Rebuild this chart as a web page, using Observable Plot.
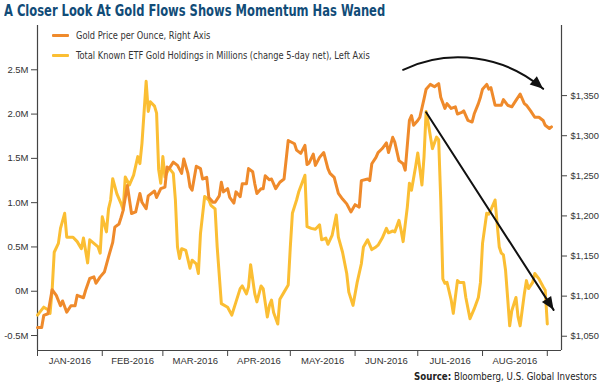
<!DOCTYPE html>
<html>
<head>
<meta charset="utf-8">
<script src="https://cdn.jsdelivr.net/npm/d3@7"></script>
<script src="https://cdn.jsdelivr.net/npm/@observablehq/plot@0.6"></script>
<style>
  html, body { margin: 0; padding: 0; background: #fff; }
  body { width: 600px; height: 385px; position: relative; overflow: hidden;
         font-family: "DejaVu Sans Condensed", "Liberation Sans", sans-serif; }
  #title { position: absolute; left: 4px; top: 1px; font-weight: bold; font-size: 16px; color: #114c78; white-space: nowrap;
           transform: scaleX(0.8); transform-origin: 0 0; }
  #chart { position: absolute; left: 0; top: 20px; }
  #legend { position: absolute; left: 52px; top: 26px; font-size: 10px; color: #333; }
  #legend .row { height: 19.5px; display: flex; align-items: center; white-space: nowrap; }
  #legend .sw { display: inline-block; width: 17px; height: 3px; margin-right: 7px; border-radius: 1px; }
  #legend .txt { display: inline-block; transform: scaleX(0.92); transform-origin: 0 50%; }
  #source { position: absolute; right: 3px; top: 370px; font-size: 11px; color: #222; white-space: nowrap;
            transform: scaleX(0.875); transform-origin: 100% 0; }
</style>
</head>
<body>
<div id="title">A Closer Look At Gold Flows Shows Momentum Has Waned</div>
<div id="chart"></div>
<div id="legend"></div>
<div id="source"><b>Source:</b> Bloomberg, U.S. Global Investors</div>
<script>
// ---- Data ----
const goldDates = ["01-01","01-03","01-04","01-06","01-08","01-10","01-12","01-13","01-15","01-17","01-19","01-20","01-23","01-24","01-26","01-28","01-29","01-31",
"02-02","02-04","02-06","02-07","02-09","02-10","02-11","02-13","02-15","02-17","02-19","02-20","02-22","02-23","02-26","02-27","02-29",
"03-02","03-03","03-04","03-06","03-08","03-10","03-11","03-13","03-14","03-15","03-17","03-19","03-20","03-22","03-23","03-25","03-26","03-28","03-29","03-30",
"04-01","04-02","04-04","04-05","04-07","04-08","04-10","04-11","04-13","04-14","04-15","04-17","04-18","04-19","04-21","04-22","04-24","04-26","04-28","04-30",
"05-03","05-04","05-06","05-08","05-09","05-10","05-12","05-13","05-15","05-17","05-19","05-20","05-22","05-24","05-26","05-28","05-30",
"06-01","06-03","06-04","06-07","06-08","06-09","06-11","06-12","06-14","06-16","06-17","06-19","06-20","06-22","06-24","06-25","06-27","06-28","06-29",
"07-01","07-02","07-04","07-05","07-07","07-09","07-11","07-12","07-14","07-15","07-17","07-19","07-20","07-22","07-23","07-25","07-27","07-28","07-30","07-31",
"08-01","08-03","08-04","08-05","08-07","08-08","08-10","08-11","08-13","08-15","08-17","08-19","08-21","08-22","08-24","08-26","08-28","08-30","08-31",
"09-02","09-03"];
const goldPrices = [1061,1061,1076,1078,1108,1101,1088,1094,1080,1088,1088,1101,1098,1107,1122,1124,1116,1124,
1130,1149,1167,1186,1190,1198,1207,1238,1203,1205,1228,1217,1209,1225,1231,1223,1234,
1236,1261,1259,1267,1263,1253,1271,1253,1236,1232,1262,1259,1246,1248,1223,1217,1217,1225,1242,1230,
1234,1223,1216,1230,1224,1240,1240,1259,1255,1240,1228,1234,1234,1250,1245,1246,1234,1242,1246,1294,
1290,1282,1278,1288,1264,1266,1277,1263,1273,1279,1259,1253,1248,1228,1221,1215,1205,
1214,1211,1244,1246,1244,1265,1273,1279,1284,1291,1279,1298,1292,1269,1265,1257,1319,1325,1313,
1319,1323,1346,1358,1364,1361,1365,1348,1334,1340,1334,1336,1327,1329,1331,1319,1317,1327,1340,1348,
1358,1364,1358,1360,1338,1338,1338,1345,1338,1336,1344,1352,1340,1338,1331,1323,1323,1319,1313,
1309,1311];

const etfDates = ["01-01","01-04","01-06","01-07","01-08","01-09","01-11","01-12","01-14","01-15","01-18","01-20","01-22","01-23","01-25","01-26","01-28","01-30","01-31",
"02-01","02-03","02-04","02-05","02-06","02-08","02-10","02-11","02-12","02-14","02-16","02-18","02-19","02-20","02-22","02-23","02-24","02-26","02-27","02-28","02-29",
"03-01","03-02","03-04","03-06","03-07","03-08","03-09","03-10","03-12","03-14","03-15","03-17","03-18","03-19","03-21","03-23","03-24","03-26","03-27","03-29",
"04-01","04-03","04-05","04-07","04-08","04-10","04-11","04-12","04-14","04-15","04-17","04-18","04-20","04-21","04-22","04-23","04-25","04-26","04-28","04-30",
"05-01","05-02","05-04","05-05","05-08","05-09","05-11","05-13","05-15","05-16","05-18","05-19","05-21","05-23","05-24","05-26","05-28","05-29","05-31",
"06-02","06-04","06-05","06-07","06-09","06-11","06-12","06-14","06-16","06-17","06-19","06-20","06-22","06-23","06-24","06-26","06-27","06-28","06-30",
"07-01","07-03","07-04","07-05","07-06","07-08","07-10","07-11","07-12","07-13","07-14","07-15","07-17","07-18","07-20","07-21","07-23","07-24","07-26","07-28","07-30","07-31",
"08-01","08-03","08-04","08-05","08-07","08-08","08-09","08-10","08-11","08-12","08-13","08-14","08-15","08-17","08-18","08-19","08-21","08-22","08-23","08-25","08-26","08-28","08-30","08-31",
"09-01"];
const etfValues = [-0.27,-0.18,-0.21,-0.25,0.01,0.44,0.54,0.71,0.88,0.61,0.61,0.56,0.48,0.60,0.32,0.58,0.54,0.50,0.43,
0.84,0.67,0.93,1.03,1.27,1.10,0.99,0.92,1.29,1.20,1.31,1.52,1.44,1.67,2.37,2.03,2.14,2.09,2.01,1.37,1.22,
1.52,1.29,1.39,1.33,1.03,0.50,0.37,0.48,0.46,0.26,0.35,0.31,0.20,0.65,1.07,1.03,0.97,0.93,0.50,-0.14,
-0.18,-0.27,-0.12,0.03,0.06,-0.03,0.05,0.30,-0.03,-0.12,0.06,0.03,-0.29,-0.16,-0.10,-0.24,-0.37,-0.09,-0.01,0.07,
0.50,0.88,1.03,1.12,1.31,0.73,0.71,0.70,0.75,0.58,0.60,0.53,0.63,0.86,0.61,0.44,0.20,-0.01,-0.16,
0.10,0.31,0.50,0.58,0.47,0.50,0.52,0.60,0.71,0.66,0.68,0.67,0.80,0.69,0.56,0.95,1.22,1.14,1.41,
1.56,1.20,1.52,2.03,1.90,1.61,1.74,1.71,1.03,0.14,0.09,0.10,-0.10,-0.25,0.12,0.10,0.10,-0.07,-0.31,-0.20,-0.07,0.10,
0.54,0.88,0.87,0.92,1.03,0.76,0.50,0.43,0.41,0.24,-0.07,-0.39,-0.22,-0.07,-0.29,-0.39,-0.03,0.12,0.03,0.10,0.20,0.14,0.05,0.01,
-0.37];

const leftTicks = [-0.5, 0, 0.5, 1, 1.5, 2, 2.5];
const leftTickLabels = ["-0.5M", "0M", "0.5M", "1.0M", "1.5M", "2.0M", "2.5M"];
const rightTicks = [1050, 1100, 1150, 1200, 1250, 1300, 1350];
const rightTickLabels = ["$1,050", "$1,100", "$1,150", "$1,200", "$1,250", "$1,300", "$1,350"];
const monthStarts = ["2016-01-01","2016-02-01","2016-03-01","2016-04-01","2016-05-01","2016-06-01","2016-07-01","2016-08-01","2016-09-01"];
const monthLabels = ["JAN-2016","FEB-2016","MAR-2016","APR-2016","MAY-2016","JUN-2016","JUL-2016","AUG-2016"];

const seriesNames = ["Gold Price per Ounce, Right Axis", "Total Known ETF Gold Holdings in Millions (change 5-day net), Left Axis"];
const seriesColors = ["#ef8a2b", "#fbbe33"];

// annotation arrows (data space): straight arrow, then curved arrow
const straightArrow = [{from: "2016-07-05", fromVal: 2.02, to: "2016-09-04", toVal: -0.21}];
const curvedArrow = [{from: "2016-06-24", fromVal: 2.50, to: "2016-08-30", toVal: 2.285}];
const curvedBend = 33;

// ---- Build ----
const parse = d3.utcParse("%Y-%m-%d");
// gold price (right axis) expressed in left-axis units
const toLeft = p => (p - 1050) * 0.009055 - 0.5079;
const fromLeft = v => (v + 0.5079) / 0.009055 + 1050;

const gold = goldDates.map((d, i) => ({date: parse("2016-" + d), value: toLeft(goldPrices[i])}));
const etf = etfDates.map((d, i) => ({date: parse("2016-" + d), value: etfValues[i]}));
const starts = monthStarts.map(parse);
const mids = monthLabels.map((_, i) => new Date((+starts[i] + +starts[i + 1]) / 2));
const toArrow = a => ({x1: parse(a.from), y1: a.fromVal, x2: parse(a.to), y2: a.toVal});
const straight = straightArrow.map(toArrow);
const curved = curvedArrow.map(toArrow);

const xStart = starts[0];
const xEnd = new Date(Date.UTC(2016, 8, 7, 19));
const yMin = -0.669, yMax = 3.0;
const axisColor = "#444";
const tickFont = '"Liberation Sans", Arial, sans-serif';
const arrowColor = "#111";

function build(extra) {
  return Plot.plot({
    width: 600,
    height: 365,
    marginLeft: 37,
    marginRight: 39,
    marginTop: 5,
    marginBottom: 35,
    style: {fontFamily: tickFont, fontSize: "9.5px", color: "#333", background: "#fff"},
    x: {type: "utc", domain: [xStart, xEnd]},
    y: {domain: [yMin, yMax]},
    marks: [
      Plot.ruleX([xStart], {stroke: axisColor, strokeWidth: 1.2}),
      Plot.ruleX([xEnd], {stroke: axisColor, strokeWidth: 1.2}),
      Plot.ruleY([yMin], {stroke: axisColor, strokeWidth: 1.2}),
      Plot.axisY({anchor: "left", ticks: leftTicks, tickSize: 6, tickPadding: 3, label: null, stroke: axisColor,
        tickFormat: d => leftTickLabels[leftTicks.indexOf(d)], fontSize: 9.5}),
      Plot.axisY({anchor: "right", ticks: rightTicks.map(toLeft), tickSize: 5, tickPadding: 4, label: null, stroke: axisColor,
        tickFormat: v => rightTickLabels[rightTicks.indexOf(Math.round(fromLeft(v) / 50) * 50)], fontSize: 9.3}),
      Plot.axisX({ticks: starts, tickSize: 6, tickFormat: () => "", label: null, stroke: axisColor}),
      Plot.axisX({ticks: mids, tickSize: 0, tickPadding: 7, label: null, fontSize: 9.5,
        tickFormat: d => monthLabels[mids.findIndex(m => +m === +d)]}),
      Plot.line(etf, {x: "date", y: "value", stroke: seriesColors[1], strokeWidth: 3, strokeLinejoin: "round"}),
      Plot.line(gold, {x: "date", y: "value", stroke: seriesColors[0], strokeWidth: 3, strokeLinejoin: "round"}),
      Plot.arrow(straight, {x1: "x1", y1: "y1", x2: "x2", y2: "y2", stroke: arrowColor, strokeWidth: 2, headLength: 0}),
      Plot.arrow(curved, {x1: "x1", y1: "y1", x2: "x2", y2: "y2", bend: curvedBend, stroke: arrowColor, strokeWidth: 2, headLength: 0}),
      ...extra
    ]
  });
}

// first pass: read the scales to orient the filled arrowheads
const probe = build([]);
const sx = probe.scale("x"), sy = probe.scale("y");
const headOf = (a, bend) => {
  const dx = sx.apply(a.x2) - sx.apply(a.x1), dy = sy.apply(a.y2) - sy.apply(a.y1);
  const heading = Math.atan2(dy, dx) * 180 / Math.PI + bend; // screen heading at the tip
  return {x: a.x2, y: a.y2, rotate: heading + 90};
};
const heads = [...straight.map(a => headOf(a, 0)), ...curved.map(a => headOf(a, curvedBend))];

const chart = build([
  Plot.vector(heads, {x: "x", y: "y", rotate: "rotate", length: 13, shape: "spike", anchor: "end", r: 5.5, fill: arrowColor, stroke: "none"})
]);
document.getElementById("chart").appendChild(chart);

const legend = document.getElementById("legend");
seriesNames.forEach((name, i) => {
  const row = document.createElement("div");
  row.className = "row";
  const sw = document.createElement("span");
  sw.className = "sw";
  sw.style.background = seriesColors[i];
  const txt = document.createElement("span");
  txt.className = "txt";
  txt.textContent = name;
  row.appendChild(sw);
  row.appendChild(txt);
  legend.appendChild(row);
});
</script>
</body>
</html>
